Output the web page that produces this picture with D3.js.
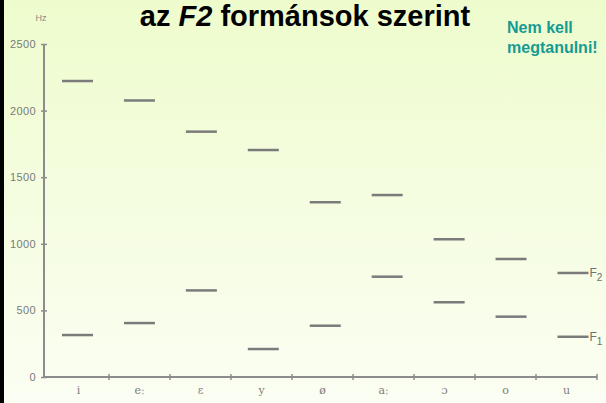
<!DOCTYPE html>
<html>
<head>
<meta charset="utf-8">
<script src="https://cdn.jsdelivr.net/npm/d3@7"></script>
<style>
  html, body { margin: 0; padding: 0; }
  body { width: 606px; height: 403px; overflow: hidden; }
</style>
</head>
<body>
<div id="chart"></div>
<script>
// vowels (IPA) on the x axis
var vowels = ["i", "eː", "ɛ", "y", "ø", "aː", "ɔ", "o", "u"];
// formant frequencies in Hz
var f2Values = [2222, 2076, 1842, 1704, 1312, 1366, 1034, 886, 781];
var f1Values = [315, 405, 650, 210, 385, 753, 561, 453, 302];
var yTicks = [0, 500, 1000, 1500, 2000, 2500];

var width = 606,
    height = 403;

var svg = d3
    .select("#chart")
    .append("svg")
    .attr("width", width)
    .attr("height", height);

// pale slide background
var grad = svg
    .append("defs")
    .append("linearGradient")
    .attr("id", "bg")
    .attr("x1", 0).attr("y1", 0)
    .attr("x2", 0).attr("y2", 1);
grad.append("stop").attr("offset", "0%").attr("stop-color", "#eefccd");
grad.append("stop").attr("offset", "100%").attr("stop-color", "#fbfef3");

svg.append("rect")
    .attr("width", width)
    .attr("height", height)
    .attr("fill", "url(#bg)");

// black frame edge on the left
svg.append("rect")
    .attr("x", 0).attr("y", 0)
    .attr("width", 4).attr("height", height)
    .attr("fill", "#000");

// title
var title = svg.append("text")
    .attr("x", 305)
    .attr("y", 26)
    .attr("text-anchor", "middle")
    .style("font-family", "Arial, 'Liberation Sans', sans-serif")
    .style("font-weight", "bold")
    .style("font-size", "29px")
    .attr("fill", "#000");
title.append("tspan").text("az ");
title.append("tspan").style("font-style", "italic").text("F2");
title.append("tspan").text(" formánsok szerint");

var note = svg.append("text")
    .style("font-family", "Arial, 'Liberation Sans', sans-serif")
    .style("font-weight", "bold")
    .style("font-size", "16px")
    .attr("fill", "#159b93");
note.append("tspan").attr("x", 507).attr("y", 33).text("Nem kell");
note.append("tspan").attr("x", 507).attr("y", 53).text("megtanulni!");

var x = d3.scaleBand().domain(vowels).range([48, 597]);
var xMark = d3.scalePoint().domain(vowels).range([77.5, 573]);
var y = d3.scaleLinear().domain([0, 2500]).range([377, 44]);

var axisColor = "#8c8c8c";

// y axis
var yAxis = svg.append("g")
    .attr("transform", "translate(44,0)")
    .call(d3.axisLeft(y).tickValues(yTicks).tickFormat(d3.format("d")).tickSize(3).tickPadding(5));
yAxis.select(".domain").remove();
yAxis.selectAll(".tick line")
    .attr("x1", -3).attr("x2", 3)
    .attr("stroke", axisColor)
    .attr("stroke-width", 1.5);
yAxis.selectAll(".tick text")
    .attr("fill", "#7a7a7a")
    .style("font-family", "Arial, 'Liberation Sans', sans-serif")
    .style("font-size", "11px")
    .style("letter-spacing", "0.4px");
svg.append("line")
    .attr("x1", 44).attr("x2", 44)
    .attr("y1", y(2500)).attr("y2", y(0))
    .attr("stroke", axisColor)
    .attr("stroke-width", 2);

svg.append("text")
    .attr("x", 41)
    .attr("y", 21)
    .attr("text-anchor", "middle")
    .attr("fill", "#8a8a8a")
    .style("font-family", "Arial, 'Liberation Sans', sans-serif")
    .style("font-size", "9px")
    .text("Hz");

// x axis
var xAxis = svg.append("g")
    .attr("transform", "translate(0," + y(0) + ")")
    .call(d3.axisBottom(x).tickSize(0).tickPadding(9));
xAxis.select(".domain").remove();
xAxis.selectAll(".tick text")
    .attr("fill", "#7d7d7d")
    .style("font-family", "'DejaVu Serif', 'Liberation Serif', serif")
    .style("font-size", "11px");
svg.append("line")
    .attr("x1", 44).attr("x2", 597)
    .attr("y1", y(0)).attr("y2", y(0))
    .attr("stroke", axisColor)
    .attr("stroke-width", 2);
svg.append("g")
    .selectAll("line")
    .data(vowels)
    .enter()
    .append("line")
    .attr("x1", function (d) { return x(d) + x.bandwidth(); })
    .attr("x2", function (d) { return x(d) + x.bandwidth(); })
    .attr("y1", y(0) - 3)
    .attr("y2", y(0) + 3)
    .attr("stroke", axisColor)
    .attr("stroke-width", 1.5);

// formant marks
var half = 15.5;
function drawMarks(values) {
    svg.append("g")
        .selectAll("line")
        .data(values)
        .enter()
        .append("line")
        .attr("x1", function (d, i) { return xMark(vowels[i]) - half; })
        .attr("x2", function (d, i) { return xMark(vowels[i]) + half; })
        .attr("y1", function (d) { return y(d); })
        .attr("y2", function (d) { return y(d); })
        .attr("stroke", "#7b7b7b")
        .attr("stroke-width", 2.5);
}
drawMarks(f2Values);
drawMarks(f1Values);

// F1 / F2 labels beside the last vowel
var last = vowels.length - 1;
[["2", f2Values[last]], ["1", f1Values[last]]].forEach(function (p) {
    var t = svg.append("text")
        .attr("x", xMark(vowels[last]) + half + 1)
        .attr("y", y(p[1]) + 4)
        .attr("fill", "#6f6f6f")
        .style("font-family", "Arial, 'Liberation Sans', sans-serif")
        .style("font-size", "12px");
    t.append("tspan").text("F");
    t.append("tspan").attr("dy", 4).style("font-size", "10px").text(p[0]);
});
</script>
</body>
</html>
